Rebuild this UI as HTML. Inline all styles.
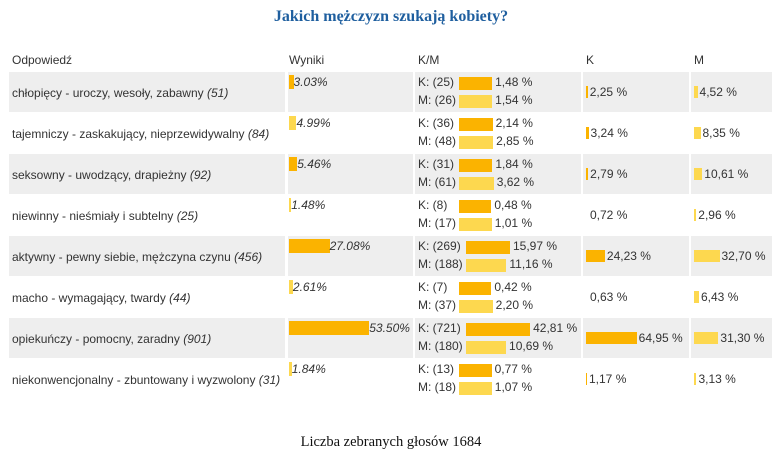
<!DOCTYPE html>
<html><head><meta charset="utf-8">
<style>
body{margin:0;width:782px;height:466px;background:#fff;position:relative;overflow:hidden;font-family:"Liberation Sans",Arial,sans-serif;font-size:12px;color:#333}
.a{position:absolute;white-space:nowrap}
.row{position:absolute;left:9px;width:763px;height:40px}
.cell{position:absolute;top:0;height:40px}
.bar{position:absolute;height:13px}
.dk{background:#fbb300}.lt{background:#fdd84f}
</style></head><body>
<div class="a" style="left:0;width:782px;text-align:center;top:8px;font-family:'Liberation Serif',serif;font-weight:bold;font-size:16px;color:#1f5f9f">Jakich mężczyzn szukają kobiety?</div>
<div class="a" style="left:12px;top:53px">Odpowiedź</div>
<div class="a" style="left:289px;top:53px">Wyniki</div>
<div class="a" style="left:418px;top:53px">K/M</div>
<div class="a" style="left:586px;top:53px">K</div>
<div class="a" style="left:694px;top:53px">M</div>
<div id="rows"></div>
<div class="a" style="left:0;width:782px;text-align:center;top:434px;font-family:'Liberation Serif',serif;font-size:14.5px;color:#111">Liczba zebranych głosów 1684</div>
<script>
const labels=["chłopięcy - uroczy, wesoły, zabawny","tajemniczy - zaskakujący, nieprzewidywalny","seksowny - uwodzący, drapieżny","niewinny - nieśmiały i subtelny","aktywny - pewny siebie, mężczyna czynu","macho - wymagający, twardy","opiekuńczy - pomocny, zaradny","niekonwencjonalny - zbuntowany i wyzwolony"];
const counts=[51,84,92,25,456,44,901,31];
const totals=[3.03,4.99,5.46,1.48,27.08,2.61,53.50,1.84];
const kCounts=[25,36,31,8,269,7,721,13];
const kShare=[1.48,2.14,1.84,0.48,15.97,0.42,42.81,0.77];
const mCounts=[26,48,61,17,188,37,180,18];
const mShare=[1.54,2.85,3.62,1.01,11.16,2.20,10.69,1.07];
const kPct=[2.25,3.24,2.79,0.72,24.23,0.63,64.95,1.17];
const mPct=[4.52,8.35,10.61,2.96,32.70,6.43,31.30,3.13];
const xTotal=v=>Math.max(2,v*1.5);
const xKM=v=>Math.min(70,32+v*0.75);
const xKcol=v=>v<1?0:Math.max(1,v*0.78);
const fmt=v=>v.toFixed(2).replace('.',',')+' %';
const root=document.getElementById('rows');
const rowTops=[72,113,154,195,236,277,318,359];
labels.forEach((lab,i)=>{
  const r=document.createElement('div');
  r.className='row';
  
  
  r.style.top=rowTops[i]+'px';
  const bg=i%2===0?'#eeeeee':'#fff';
  const cols=[[0,276],[279,125],[406,166],[574,106],[682,81]];
  let h='';
  cols.forEach((c,j)=>{h+=`<div class="cell" style="left:${c[0]}px;width:${c[1]}px;background:${bg}"></div>`;});
  r.innerHTML=h;
  const name=document.createElement('div');
  name.className='a';
  
  
  name.style.cssText='left:3px;top:14px';
  name.innerHTML=lab+' <i>('+counts[i]+')</i>';
  r.appendChild(name);
  const cls=i%2===0?'dk':'lt';
  const tb=document.createElement('div');
  tb.className='bar '+cls;
  
  
  tb.style.cssText=`left:280px;top:3px;width:${xTotal(totals[i])}px;height:14px`;
  r.appendChild(tb);
  const tt=document.createElement('div');
  tt.className='a';
  
  
  tt.style.cssText=`left:${280+xTotal(totals[i])}px;top:3px;font-style:italic`;
  tt.textContent=totals[i].toFixed(2)+'%';
  r.appendChild(tt);
  [[kCounts,kShare,'K','dk',3],[mCounts,mShare,'M','lt',21]].forEach(([cn,sh,p,c,y])=>{
    const l=document.createElement('div');
    l.className='a';
    
    
    l.style.cssText=`left:409px;top:${y}px`;
    l.textContent=p+': ('+cn[i]+')';
    r.appendChild(l);
    const x0=cn[i]>=100?457:450;
    const b=document.createElement('div');
    b.className='bar '+c;
    
    
    b.style.cssText=`left:${x0}px;top:${y+2}px;width:${xKM(sh[i])}px`;
    r.appendChild(b);
    const t=document.createElement('div');
    t.className='a';
    
    
    t.style.cssText=`left:${x0+xKM(sh[i])+3}px;top:${y}px`;
    t.textContent=fmt(sh[i]);
    r.appendChild(t);
  });
  [[kPct,577,'dk','k-bar'],[mPct,685,'lt','m-bar']].forEach(([arr,x0,c,nm])=>{
    const w=xKcol(arr[i]);
    const b=document.createElement('div');
    b.className='bar '+c;
    
    
    b.style.cssText=`left:${x0}px;top:14px;width:${w}px;height:12px`;
    r.appendChild(b);
    const t=document.createElement('div');
    t.className='a';
    
    
    t.style.cssText=`left:${x0+(w?w+2:4)}px;top:13px`;
    t.textContent=fmt(arr[i]);
    r.appendChild(t);
  });
  root.appendChild(r);
});
</script>
</body></html>
